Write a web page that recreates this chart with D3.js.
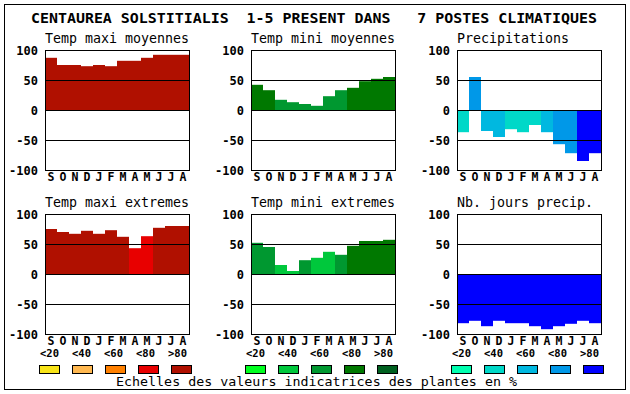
<!DOCTYPE html>
<html>
<head>
<meta charset="utf-8">
<title>Centaurea solstitialis</title>
<style>
  body { margin: 0; background: #fff; }
  text { font-family: "DejaVu Sans Mono", monospace; }
</style>
</head>
<body>
<svg id="chart" width="630" height="394"></svg>
<script src="https://cdn.jsdelivr.net/npm/d3@7"></script>
<script>
// months (Sept -> Aug)
var months = ["S","O","N","D","J","F","M","A","M","J","J","A"];
var yTicks = [100, 50, 0, -50, -100];
var scaleLabels = ["<20", "<40", "<60", "<80", ">80"];

// values, plus the indicator class (0..4) of each bar
var tmaxMoy     = [87, 75, 75, 73, 75, 73, 82, 82, 87, 92, 92, 92];
var tmaxMoyCls  = [4, 4, 4, 4, 4, 4, 4, 4, 4, 4, 4, 4];
var tminMoy     = [42, 33, 17, 13, 10, 7, 23, 33, 37, 48, 52, 55];
var tminMoyCls  = [3, 3, 2, 2, 2, 2, 2, 2, 3, 3, 3, 3];
var precip      = [-37, 55, -35, -45, -32, -37, -25, -37, -57, -72, -85, -72];
var precipCls   = [1, 3, 2, 2, 1, 1, 1, 2, 3, 3, 4, 4];
var tmaxExt     = [75, 70, 67, 72, 67, 73, 62, 43, 63, 77, 80, 80];
var tmaxExtCls  = [4, 4, 4, 4, 4, 4, 4, 3, 3, 4, 4, 4];
var tminExt     = [52, 45, 15, 5, 23, 27, 37, 32, 47, 55, 55, 57];
var tminExtCls  = [2, 2, 1, 1, 2, 1, 1, 2, 3, 3, 3, 3];
var nbJours     = [-82, -78, -87, -78, -82, -82, -87, -92, -87, -83, -78, -82];
var nbJoursCls  = [4, 4, 4, 4, 4, 4, 4, 4, 4, 4, 4, 4];

var reds   = ["#f8e418", "#ffb850", "#ff8000", "#e80000", "#b01000"];
var greens = ["#00ff20", "#00c83c", "#009830", "#007800", "#006020"];
var blues  = ["#00ffb0", "#00d8c8", "#00b8e0", "#0098e8", "#0000ff"];

var panels = [
  { title: "Temp maxi moyennes", values: tmaxMoy, cls: tmaxMoyCls, pal: reds,   col: 0, row: 0 },
  { title: "Temp mini moyennes", values: tminMoy, cls: tminMoyCls, pal: greens, col: 1, row: 0 },
  { title: "Precipitations",     values: precip,  cls: precipCls,  pal: blues,  col: 2, row: 0 },
  { title: "Temp maxi extremes", values: tmaxExt, cls: tmaxExtCls, pal: reds,   col: 0, row: 1 },
  { title: "Temp mini extremes", values: tminExt, cls: tminExtCls, pal: greens, col: 1, row: 1 },
  { title: "Nb. jours precip.",  values: nbJours, cls: nbJoursCls, pal: blues,  col: 2, row: 1 }
];

var colX = [45, 251, 457];
var rowY = [50, 214];
var pw = 144, ph = 120;

var svg = d3.select("#chart");

// outer frame
svg.append("rect")
  .attr("x", 4.5).attr("y", 4.5)
  .attr("width", 621).attr("height", 385)
  .attr("fill", "none").attr("stroke", "#000");

svg.append("text")
  .attr("x", 31).attr("y", 23)
  .attr("font-size", 13.5).attr("font-weight", "bold")
  .attr("textLength", 566).attr("lengthAdjust", "spacingAndGlyphs")
  .style("white-space", "pre")
  .text("CENTAUREA SOLSTITIALIS  1-5 PRESENT DANS   7 POSTES CLIMATIQUES");

var x = d3.scaleBand().domain(d3.range(months.length)).range([0, pw]).padding(0);
var y = d3.scaleLinear().domain([-100, 100]).range([ph, 0]);

panels.forEach(function (p) {
  var g = svg.append("g")
    .attr("transform", "translate(" + colX[p.col] + "," + rowY[p.row] + ")");

  g.append("text")
    .attr("x", 0).attr("y", -7)
    .attr("font-size", 13.3)
    .text(p.title);

  g.selectAll("rect.bar")
    .data(p.values)
    .enter().append("rect")
    .attr("class", "bar")
    .attr("x", function (d, i) { return x(i); })
    .attr("width", x.bandwidth())
    .attr("y", function (d) { return y(Math.max(0, d)); })
    .attr("height", function (d) { return Math.abs(y(d) - y(0)); })
    .attr("fill", function (d, i) { return p.pal[p.cls[i]]; });

  // horizontal lines at 50, 0, -50
  g.selectAll("line.grid")
    .data([50, 0, -50])
    .enter().append("line")
    .attr("class", "grid")
    .attr("x1", 0).attr("x2", pw)
    .attr("y1", function (d) { return Math.round(y(d)) + 0.5; })
    .attr("y2", function (d) { return Math.round(y(d)) + 0.5; })
    .attr("stroke", "#000");

  g.append("rect")
    .attr("x", 0.5).attr("y", 0.5)
    .attr("width", pw).attr("height", ph)
    .attr("fill", "none").attr("stroke", "#000");

  g.selectAll("text.ytick")
    .data(yTicks)
    .enter().append("text")
    .attr("class", "ytick")
    .attr("x", -7)
    .attr("y", function (d) { return y(d) + 4.5; })
    .attr("text-anchor", "end")
    .attr("font-size", 12).attr("font-weight", "bold")
    .text(function (d) { return d; });

  g.selectAll("text.month")
    .data(months)
    .enter().append("text")
    .attr("class", "month")
    .attr("x", function (d, i) { return x(i) + x.bandwidth() / 2; })
    .attr("y", ph + 11)
    .attr("text-anchor", "middle")
    .attr("font-size", 11.5).attr("font-weight", "bold")
    .text(function (d) { return d; });
});

// legend: three colour scales under the three columns
var lx = d3.scaleLinear().domain([0, 4]).range([0, 132]);
[reds, greens, blues].forEach(function (pal, k) {
  var g = svg.append("g").attr("transform", "translate(" + (colX[k] - 6) + ",0)");
  g.selectAll("text")
    .data(scaleLabels)
    .enter().append("text")
    .attr("x", function (d, i) { return i * 32 + 1; })
    .attr("y", 357)
    .attr("font-size", 10.5).attr("font-weight", "bold")
    .text(function (d) { return d; });
  g.selectAll("rect")
    .data(pal)
    .enter().append("rect")
    .attr("x", function (d, i) { return Math.round(lx(i)) + 0.5; })
    .attr("y", 365.5)
    .attr("width", 20).attr("height", 8)
    .attr("fill", function (d) { return d; })
    .attr("stroke", "#000");
});

svg.append("text")
  .attr("x", 116).attr("y", 386)
  .attr("font-size", 13)
  .attr("textLength", 401).attr("lengthAdjust", "spacingAndGlyphs")
  .text("Echelles des valeurs indicatrices des plantes en %");
</script>
</body>
</html>
